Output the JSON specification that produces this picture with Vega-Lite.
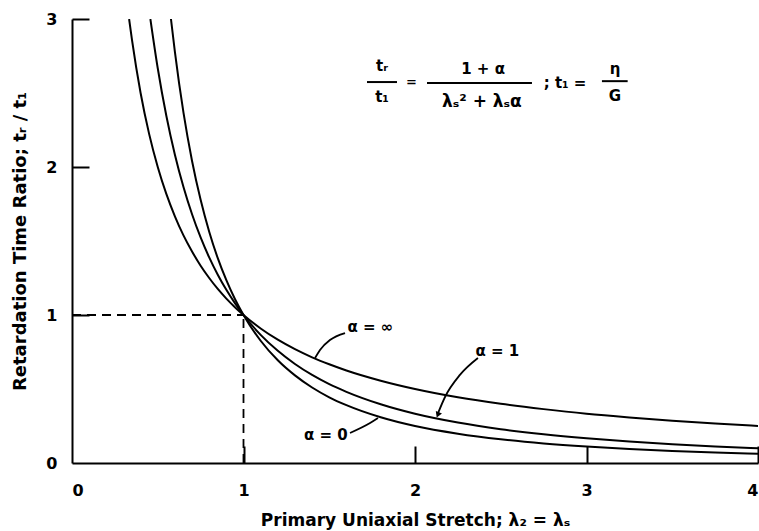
{
  "$schema": "https://vega.github.io/schema/vega-lite/v6.json",
  "width": 686,
  "height": 444,
  "autosize": {"type": "none"},
  "padding": {"left": 72, "top": 19, "right": 1, "bottom": 68},
  "background": "white",
  "config": {
    "view": {"stroke": null},
    "font": "DejaVu Sans",
    "axis": {
      "grid": false,
      "domainColor": "black",
      "domainWidth": 2,
      "tickColor": "black",
      "tickWidth": 2,
      "tickSize": -17,
      "labelColor": "black",
      "labelFont": "DejaVu Sans",
      "labelFontSize": 16,
      "labelFontWeight": "bold",
      "titleColor": "black",
      "titleFont": "DejaVu Sans",
      "titleFontWeight": "bold"
    }
  },
  "datasets": {
    "curves": [
      {"curve": "a0", "lam": 0.577, "r": 3.0},
      {"curve": "a0", "lam": 0.6, "r": 2.778},
      {"curve": "a0", "lam": 0.65, "r": 2.367},
      {"curve": "a0", "lam": 0.7, "r": 2.041},
      {"curve": "a0", "lam": 0.75, "r": 1.778},
      {"curve": "a0", "lam": 0.8, "r": 1.5625},
      {"curve": "a0", "lam": 0.85, "r": 1.384},
      {"curve": "a0", "lam": 0.9, "r": 1.235},
      {"curve": "a0", "lam": 0.95, "r": 1.108},
      {"curve": "a0", "lam": 1.0, "r": 1.0},
      {"curve": "a0", "lam": 1.1, "r": 0.826},
      {"curve": "a0", "lam": 1.2, "r": 0.694},
      {"curve": "a0", "lam": 1.3, "r": 0.592},
      {"curve": "a0", "lam": 1.4, "r": 0.51},
      {"curve": "a0", "lam": 1.5, "r": 0.444},
      {"curve": "a0", "lam": 1.6, "r": 0.391},
      {"curve": "a0", "lam": 1.8, "r": 0.309},
      {"curve": "a0", "lam": 2.0, "r": 0.25},
      {"curve": "a0", "lam": 2.25, "r": 0.198},
      {"curve": "a0", "lam": 2.5, "r": 0.16},
      {"curve": "a0", "lam": 2.75, "r": 0.132},
      {"curve": "a0", "lam": 3.0, "r": 0.111},
      {"curve": "a0", "lam": 3.25, "r": 0.0947},
      {"curve": "a0", "lam": 3.5, "r": 0.0816},
      {"curve": "a0", "lam": 3.75, "r": 0.0711},
      {"curve": "a0", "lam": 4.0, "r": 0.0625},
      {"curve": "a1", "lam": 0.457, "r": 3.0},
      {"curve": "a1", "lam": 0.5, "r": 2.667},
      {"curve": "a1", "lam": 0.55, "r": 2.346},
      {"curve": "a1", "lam": 0.6, "r": 2.083},
      {"curve": "a1", "lam": 0.65, "r": 1.865},
      {"curve": "a1", "lam": 0.7, "r": 1.681},
      {"curve": "a1", "lam": 0.75, "r": 1.524},
      {"curve": "a1", "lam": 0.8, "r": 1.389},
      {"curve": "a1", "lam": 0.85, "r": 1.272},
      {"curve": "a1", "lam": 0.9, "r": 1.17},
      {"curve": "a1", "lam": 0.95, "r": 1.08},
      {"curve": "a1", "lam": 1.0, "r": 1.0},
      {"curve": "a1", "lam": 1.1, "r": 0.866},
      {"curve": "a1", "lam": 1.2, "r": 0.758},
      {"curve": "a1", "lam": 1.3, "r": 0.669},
      {"curve": "a1", "lam": 1.4, "r": 0.595},
      {"curve": "a1", "lam": 1.5, "r": 0.533},
      {"curve": "a1", "lam": 1.6, "r": 0.481},
      {"curve": "a1", "lam": 1.8, "r": 0.397},
      {"curve": "a1", "lam": 2.0, "r": 0.333},
      {"curve": "a1", "lam": 2.25, "r": 0.2735},
      {"curve": "a1", "lam": 2.5, "r": 0.2286},
      {"curve": "a1", "lam": 2.75, "r": 0.1939},
      {"curve": "a1", "lam": 3.0, "r": 0.1667},
      {"curve": "a1", "lam": 3.25, "r": 0.1448},
      {"curve": "a1", "lam": 3.5, "r": 0.127},
      {"curve": "a1", "lam": 3.75, "r": 0.1123},
      {"curve": "a1", "lam": 4.0, "r": 0.1},
      {"curve": "ainf", "lam": 0.333, "r": 3.0},
      {"curve": "ainf", "lam": 0.35, "r": 2.857},
      {"curve": "ainf", "lam": 0.4, "r": 2.5},
      {"curve": "ainf", "lam": 0.45, "r": 2.222},
      {"curve": "ainf", "lam": 0.5, "r": 2.0},
      {"curve": "ainf", "lam": 0.55, "r": 1.818},
      {"curve": "ainf", "lam": 0.6, "r": 1.667},
      {"curve": "ainf", "lam": 0.65, "r": 1.538},
      {"curve": "ainf", "lam": 0.7, "r": 1.429},
      {"curve": "ainf", "lam": 0.75, "r": 1.333},
      {"curve": "ainf", "lam": 0.8, "r": 1.25},
      {"curve": "ainf", "lam": 0.85, "r": 1.176},
      {"curve": "ainf", "lam": 0.9, "r": 1.111},
      {"curve": "ainf", "lam": 0.95, "r": 1.053},
      {"curve": "ainf", "lam": 1.0, "r": 1.0},
      {"curve": "ainf", "lam": 1.1, "r": 0.909},
      {"curve": "ainf", "lam": 1.2, "r": 0.833},
      {"curve": "ainf", "lam": 1.3, "r": 0.769},
      {"curve": "ainf", "lam": 1.4, "r": 0.714},
      {"curve": "ainf", "lam": 1.5, "r": 0.667},
      {"curve": "ainf", "lam": 1.6, "r": 0.625},
      {"curve": "ainf", "lam": 1.8, "r": 0.556},
      {"curve": "ainf", "lam": 2.0, "r": 0.5},
      {"curve": "ainf", "lam": 2.25, "r": 0.444},
      {"curve": "ainf", "lam": 2.5, "r": 0.4},
      {"curve": "ainf", "lam": 2.75, "r": 0.364},
      {"curve": "ainf", "lam": 3.0, "r": 0.333},
      {"curve": "ainf", "lam": 3.25, "r": 0.308},
      {"curve": "ainf", "lam": 3.5, "r": 0.286},
      {"curve": "ainf", "lam": 3.75, "r": 0.267},
      {"curve": "ainf", "lam": 4.0, "r": 0.25}
    ],
    "dashes": [
      {"x": 0, "y": 1, "x2": 1, "y2": 1},
      {"x": 1, "y": 0, "x2": 1, "y2": 1}
    ],
    "leaders": [
      {"g": "inf", "i": 1, "x": 1.592, "y": 0.878},
      {"g": "inf", "i": 2, "x": 1.504, "y": 0.831},
      {"g": "inf", "i": 3, "x": 1.446, "y": 0.764},
      {"g": "inf", "i": 4, "x": 1.417, "y": 0.709},
      {"g": "one", "i": 1, "x": 2.367, "y": 0.709},
      {"g": "one", "i": 2, "x": 2.262, "y": 0.595},
      {"g": "one", "i": 3, "x": 2.175, "y": 0.446},
      {"g": "one", "i": 4, "x": 2.132, "y": 0.33},
      {"g": "zero", "i": 1, "x": 1.621, "y": 0.203},
      {"g": "zero", "i": 2, "x": 1.738, "y": 0.27},
      {"g": "zero", "i": 3, "x": 1.784, "y": 0.304}
    ],
    "arrow": [
      {"x": 2.133, "y": 0.325}
    ],
    "labels": [
      {"x": 1.74, "y": 0.92, "t": "α = ∞", "size": 15},
      {"x": 2.48, "y": 0.76, "t": "α = 1", "size": 15},
      {"x": 1.48, "y": 0.19, "t": "α = 0", "size": 15},
      {"x": 1.808, "y": 2.68, "t": "tᵣ", "size": 15},
      {"x": 1.808, "y": 2.47, "t": "t₁", "size": 15},
      {"x": 1.98, "y": 2.574, "t": "=", "size": 13},
      {"x": 2.397, "y": 2.66, "t": "1 + α", "size": 15},
      {"x": 2.39, "y": 2.44, "t": "λₛ² + λₛα", "size": 17},
      {"x": 2.875, "y": 2.565, "t": "; t₁ =", "size": 15},
      {"x": 3.166, "y": 2.66, "t": "η", "size": 15},
      {"x": 3.166, "y": 2.48, "t": "G", "size": 15}
    ],
    "bars": [
      {"x": 1.72, "x2": 1.895, "y": 2.574},
      {"x": 2.07, "x2": 2.682, "y": 2.568},
      {"x": 3.09, "x2": 3.24, "y": 2.58}
    ]
  },
  "layer": [
    {
      "data": {"name": "dashes"},
      "mark": {"type": "rule", "color": "black", "strokeWidth": 1.8, "strokeDash": [9, 6]},
      "encoding": {
        "x": {"field": "x", "type": "quantitative", "scale": {"domain": [0, 4]},
          "axis": {"values": [0, 1, 2, 3, 4], "format": "d", "labelPadding": 36,
            "tickOpacity": {"condition": {"test": "datum.value === 0", "value": 0}, "value": 1},
            "title": "Primary Uniaxial Stretch; λ₂ = λₛ", "titleFontSize": 17, "titlePadding": 14}},
        "y": {"field": "y", "type": "quantitative", "scale": {"domain": [0, 3]},
          "axis": {"values": [0, 1, 2, 3], "format": "d", "labelPadding": 32,
            "tickOpacity": {"condition": {"test": "datum.value === 0", "value": 0}, "value": 1},
            "title": "Retardation Time Ratio; tᵣ / t₁", "titleFontSize": 18, "titlePadding": 16}},
        "x2": {"field": "x2"},
        "y2": {"field": "y2"}
      }
    },
    {
      "data": {"name": "curves"},
      "mark": {"type": "line", "color": "black", "strokeWidth": 2, "interpolate": "monotone", "clip": true},
      "encoding": {
        "x": {"field": "lam", "type": "quantitative"},
        "y": {"field": "r", "type": "quantitative"},
        "detail": {"field": "curve"}
      }
    },
    {
      "data": {"name": "leaders"},
      "mark": {"type": "line", "color": "black", "strokeWidth": 1.8, "interpolate": "monotone"},
      "encoding": {
        "x": {"field": "x", "type": "quantitative"},
        "y": {"field": "y", "type": "quantitative"},
        "detail": {"field": "g"},
        "order": {"field": "i"}
      }
    },
    {
      "data": {"name": "arrow"},
      "mark": {"type": "point", "shape": "triangle-down", "filled": true, "color": "black", "size": 45, "angle": 22, "opacity": 1},
      "encoding": {
        "x": {"field": "x", "type": "quantitative"},
        "y": {"field": "y", "type": "quantitative"}
      }
    },
    {
      "data": {"name": "bars"},
      "mark": {"type": "rule", "color": "black", "strokeWidth": 2},
      "encoding": {
        "x": {"field": "x", "type": "quantitative"},
        "x2": {"field": "x2"},
        "y": {"field": "y", "type": "quantitative"}
      }
    },
    {
      "data": {"name": "labels"},
      "mark": {"type": "text", "color": "black", "fontWeight": "bold", "font": "DejaVu Sans", "baseline": "middle", "align": "center"},
      "encoding": {
        "x": {"field": "x", "type": "quantitative"},
        "y": {"field": "y", "type": "quantitative"},
        "text": {"field": "t"},
        "size": {"field": "size", "type": "quantitative", "scale": null}
      }
    }
  ]
}
